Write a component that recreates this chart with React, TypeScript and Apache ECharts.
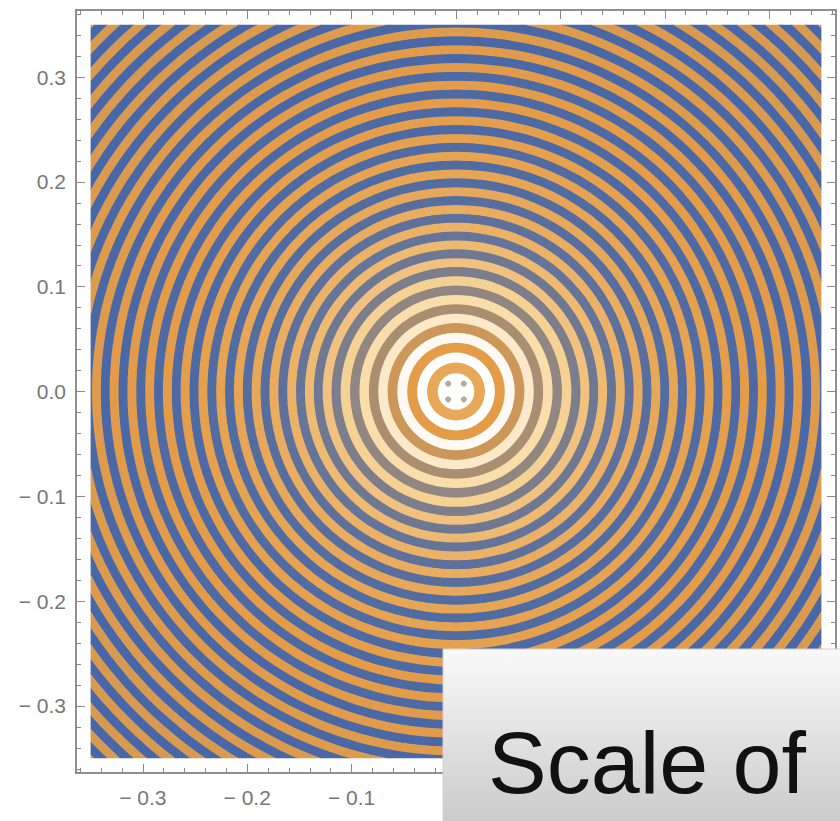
import React, { useEffect, useRef } from "react";
import * as echarts from "echarts";

// ---- data ----
// radii (data units) of the dark (low) rings, centre outwards
const darkRadius = [
  0.023, 0.042, 0.061, 0.079, 0.097, 0.115, 0.132, 0.149, 0.166, 0.183,
  0.2, 0.217, 0.234, 0.251, 0.268, 0.285, 0.302, 0.319, 0.336, 0.353,
  0.37, 0.387, 0.404, 0.421, 0.438, 0.455, 0.472, 0.489, 0.506,
];
const darkValue = [
  0.55, 0.5, 0.42, 0.3, 0.22, 0.16, 0.12, 0.09, 0.07, 0.05,
  0.04, 0.03, 0.03, 0.02, 0.02, 0.02, 0.02, 0.01, 0.01, 0.01,
  0.01, 0.0, 0.0, 0.0, 0.0, 0.0, 0.0, 0.0, 0.0,
];
// radii of the light (high) rings; the first is the central disk
const lightRadius = [
  0.012, 0.0325, 0.0515, 0.07, 0.088, 0.106, 0.1235, 0.1405, 0.1575, 0.1745,
  0.1915, 0.2085, 0.2255, 0.2425, 0.2595, 0.2765, 0.2935, 0.3105, 0.3275,
  0.3445, 0.3615, 0.3785, 0.3955, 0.4125, 0.4295, 0.4465, 0.4635, 0.4805,
  0.4975, 0.5145,
];
const lightValue = [
  1, 1, 0.97, 0.86, 0.78, 0.72, 0.66, 0.62, 0.59, 0.57,
  0.55, 0.54, 0.53, 0.52, 0.51, 0.5, 0.5, 0.49, 0.49, 0.48,
  0.48, 0.47, 0.47, 0.46, 0.46, 0.46, 0.46, 0.46, 0.46, 0.46,
];
// four small spots in the middle
const centreDots = [
  [-0.0075, 0.0075],
  [0.0075, 0.0075],
  [-0.0075, -0.0075],
  [0.0075, -0.0075],
];
const plotExtent = 0.35;
const axisExtent = 0.364;
const majorTicks = [-0.3, -0.2, -0.1, 0, 0.1, 0.2, 0.3];
const xLabels = [-0.3, -0.2, -0.1]; // the rest sit under the caption box
const yLabels = [-0.3, -0.2, -0.1, 0, 0.1, 0.2, 0.3];
const minorTicks = [
  -0.36, -0.34, -0.32, -0.28, -0.26, -0.24, -0.22, -0.18, -0.16, -0.14, -0.12,
  -0.08, -0.06, -0.04, -0.02, 0.02, 0.04, 0.06, 0.08, 0.12, 0.14, 0.16, 0.18,
  0.22, 0.24, 0.26, 0.28, 0.32, 0.34, 0.36,
];
const overlayText = "Scale of";

const fmt = (v: number) =>
  v < 0 ? "\u2212 " + Math.abs(v).toFixed(1) : v.toFixed(1);

export default function App() {
  const ref = useRef<HTMLDivElement>(null);
  useEffect(() => {
    if (!ref.current) return;
    const chart = echarts.init(ref.current, undefined, { renderer: "svg" });

    const bands = [
      ...lightRadius.map((r, i) => [r, lightValue[i]]),
      ...darkRadius.map((r, i) => [r, darkValue[i]]),
    ].sort((a, b) => a[0] - b[0]);
    const bandData = bands.map((b, i) => {
      const inner = i === 0 ? 0 : (bands[i - 1][0] + b[0]) / 2;
      const outer =
        i === bands.length - 1
          ? b[0] + (b[0] - inner)
          : (bands[i + 1][0] + b[0]) / 2;
      return [b[0], b[1], inner, outer];
    });

    const frameColor = "#888888";
    const labelStyle = {
      color: "#777",
      fontSize: 21,
      fontFamily: "Liberation Sans",
      formatter: fmt,
    };
    const mkAxis = (
      pos: string,
      ticks: number[],
      len: number,
      labels: number[] | null,
      margin: number
    ) => ({
      type: "value",
      position: pos,
      min: -axisExtent,
      max: axisExtent,
      axisLine: { show: true, onZero: false, lineStyle: { color: frameColor, width: 1.5 } },
      axisTick: {
        show: true,
        inside: true,
        length: len,
        customValues: ticks,
        lineStyle: { color: frameColor, width: 1 },
      },
      axisLabel: labels
        ? { show: true, customValues: labels, margin, ...labelStyle }
        : { show: false },
      splitLine: { show: false },
    });

    chart.setOption({
      animation: false,
      backgroundColor: "#ffffff",
      grid: { left: 76, top: 10, width: 760, height: 763, containLabel: false },
      xAxis: [
        mkAxis("bottom", majorTicks, 9, xLabels, 14),
        mkAxis("top", majorTicks, 9, null, 0),
        mkAxis("bottom", minorTicks, 5, null, 0),
        mkAxis("top", minorTicks, 5, null, 0),
      ],
      yAxis: [
        mkAxis("left", majorTicks, 9, yLabels, 10),
        mkAxis("right", majorTicks, 9, null, 0),
        mkAxis("left", minorTicks, 5, null, 0),
        mkAxis("right", minorTicks, 5, null, 0),
      ],
      visualMap: {
        type: "continuous",
        show: false,
        min: 0,
        max: 1,
        dimension: 1,
        seriesIndex: 0,
        inRange: {
          color: ["#4767a8", "#9a8b7d", "#e49c48", "#f8d89e", "#ffffff"],
        },
      },
      series: [
        {
          type: "custom",
          coordinateSystem: "cartesian2d",
          xAxisIndex: 0,
          yAxisIndex: 0,
          data: bandData,
          encode: { x: 2, y: 1 },
          renderItem: (params: any, api: any) => {
            const c = api.coord([0, 0]);
            const s = api.size([1, 1])[0];
            const p1 = api.coord([-plotExtent, plotExtent]);
            const p2 = api.coord([plotExtent, -plotExtent]);
            const inner = api.value(2) * s;
            const outer = api.value(3) * s + 0.6;
            return {
              type: "ring",
              shape: { cx: c[0], cy: c[1], r: outer, r0: inner },
              style: { fill: api.visual("color") },
              clipPath: {
                type: "rect",
                shape: { x: p1[0], y: p1[1], width: p2[0] - p1[0], height: p2[1] - p1[1] },
              },
            };
          },
        },
        {
          type: "scatter",
          xAxisIndex: 0,
          yAxisIndex: 0,
          data: centreDots,
          symbolSize: 6,
          itemStyle: { color: "#a8967f", opacity: 0.8 },
          z: 5,
        },
      ],
      graphic: [
        {
          type: "rect",
          z: 100,
          shape: { x: 443, y: 649, width: 400, height: 180 },
          style: {
            fill: new echarts.graphic.LinearGradient(0, 0, 0, 1, [
              { offset: 0, color: "#f9f9f9" },
              { offset: 1, color: "#c9c9c9" },
            ]),
            stroke: "#d0d0d0",
            lineWidth: 1,
          },
        },
        {
          type: "text",
          z: 101,
          x: 488,
          y: 762,
          style: {
            text: overlayText,
            fontSize: 88,
            fontFamily: "Liberation Sans",
            fill: "#111111",
            verticalAlign: "middle",
            align: "left",
          },
        },
      ],
    });
    return () => chart.dispose();
  }, []);
  return (
    <div
      ref={ref}
      style={{ position: "fixed", left: 0, top: 0, width: 840, height: 821 }}
    />
  );
}
